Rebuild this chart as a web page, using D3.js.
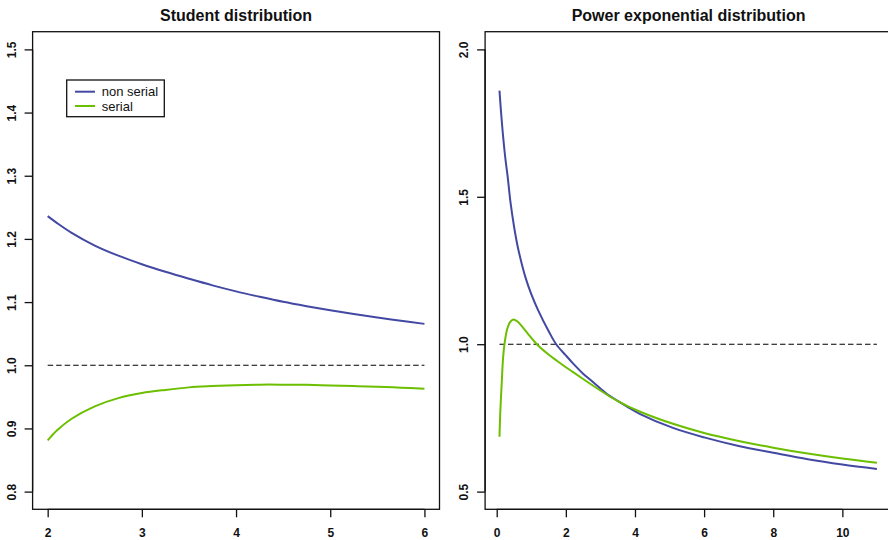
<!DOCTYPE html>
<html>
<head>
<meta charset="utf-8">
<script src="https://cdn.jsdelivr.net/npm/d3@7"></script>
<style>
  body { margin: 0; background: #fff; }
  svg { display: block; font-family: "Liberation Sans", Arial, Helvetica, sans-serif; }
</style>
</head>
<body>
<div id="chart"></div>
<script>
// left panel: Student distribution
const studentX = [2, 2.1, 2.25, 2.5, 2.75, 3, 3.25, 3.5, 3.75, 4, 4.25, 4.5, 4.75, 5, 5.25, 5.5, 5.75, 6]
const studentNonSerial = [1.236, 1.225, 1.210, 1.1895, 1.1735, 1.160, 1.148, 1.137, 1.1265, 1.117, 1.1085, 1.1005, 1.0935, 1.087, 1.081, 1.0755, 1.0705, 1.0655]
const studentSerial = [0.881, 0.897, 0.915, 0.935, 0.948, 0.956, 0.961, 0.965, 0.967, 0.9685, 0.9693, 0.9693, 0.969, 0.968, 0.967, 0.966, 0.9645, 0.963]

// right panel: Power exponential distribution
const peXNonSerial = [0.08, 0.12, 0.17, 0.25, 0.32, 0.4, 0.5, 0.6, 0.72, 0.85, 1.0, 1.2, 1.5, 1.72, 2.0, 2.2, 2.5, 2.7, 3.0, 3.2, 3.5, 3.76, 4.15, 5.1, 6, 7, 8, 9, 10, 11]
const peNonSerial = [1.86, 1.795, 1.724, 1.63, 1.565, 1.48, 1.40, 1.335, 1.275, 1.22, 1.17, 1.115, 1.045, 1.0, 0.962, 0.936, 0.900, 0.880, 0.850, 0.830, 0.808, 0.789, 0.763, 0.716, 0.684, 0.655, 0.632, 0.610, 0.592, 0.577]
const peXSerial = [0.08, 0.1, 0.124, 0.15, 0.173, 0.2, 0.24, 0.3, 0.38, 0.48, 0.6, 0.72, 0.9, 1.16, 1.5, 1.75, 2.0, 2.2, 2.5, 3.0, 3.5, 4.15, 5.1, 6, 7, 8, 9, 10, 11]
const peSerial = [0.686, 0.76, 0.821, 0.88, 0.934, 0.975, 1.013, 1.05, 1.074, 1.084, 1.077, 1.062, 1.036, 1.0, 0.965, 0.943, 0.922, 0.906, 0.882, 0.843, 0.807, 0.771, 0.730, 0.699, 0.672, 0.649, 0.629, 0.612, 0.598]

const studentYTicks = [0.8, 0.9, 1.0, 1.1, 1.2, 1.3, 1.4, 1.5]
const studentXTicks = [2, 3, 4, 5, 6]
const peYTicks = [0.5, 1.0, 1.5, 2.0]
const peXTicks = [0, 2, 4, 6, 8, 10]

const legendLabels = ["non serial", "serial"]
const colors = { nonSerial: "#4349a3", serial: "#6cbf00" }

const W = 888, H = 540
const svg = d3.select("#chart").append("svg").attr("width", W).attr("height", H)

function panel(opts) {
    const x = d3.scaleLinear().domain(opts.xDomain).range(opts.xRange)
    const y = d3.scaleLinear().domain(opts.yDomain).range([509.3, 31.7])
    const g = svg.append("g")

    // box
    g.append("rect")
        .attr("x", opts.xRange[0]).attr("y", 31.7)
        .attr("width", opts.xRange[1] - opts.xRange[0]).attr("height", 509.3 - 31.7)
        .attr("fill", "none").attr("stroke", "#111").attr("stroke-width", 1.3)

    // title
    g.append("text")
        .attr("x", (opts.xRange[0] + opts.xRange[1]) / 2).attr("y", 21)
        .attr("text-anchor", "middle")
        .style("font-size", "16px").style("font-weight", "bold").style("fill", "#111")
        .text(opts.title)

    // x axis
    const xa = g.append("g")
        .attr("transform", `translate(0, 509.3)`)
        .call(d3.axisBottom(x).tickValues(opts.xTicks).tickSize(8).tickPadding(11).tickFormat(d3.format("d")))
    xa.select(".domain").attr("d", `M${x(opts.xTicks[0])},0H${x(opts.xTicks[opts.xTicks.length - 1])}`)
    // y axis
    const ya = g.append("g")
        .attr("transform", `translate(${opts.xRange[0]}, 0)`)
        .call(d3.axisLeft(y).tickValues(opts.yTicks).tickSize(8).tickFormat(d3.format(".1f")))
    ya.select(".domain").attr("d", `M0,${y(opts.yTicks[0])}V${y(opts.yTicks[opts.yTicks.length - 1])}`)
    ya.selectAll(".tick text")
        .attr("x", null).attr("dy", null)
        .attr("transform", "translate(-17,0) rotate(-90)")
        .attr("text-anchor", "middle")
    for (const a of [xa, ya]) {
        a.selectAll(".domain, .tick line").attr("stroke", "#111").attr("stroke-width", 1.3)
        a.selectAll(".tick text").style("font-size", "12px").style("font-weight", "bold")
            .style("font-family", "'Liberation Sans', Arial, sans-serif").attr("fill", "#111")
    }

    // reference line at 1
    g.append("line")
        .attr("x1", x(opts.refRange[0])).attr("x2", x(opts.refRange[1]))
        .attr("y1", y(1)).attr("y2", y(1))
        .attr("stroke", "#000").attr("stroke-width", 1.1).attr("stroke-dasharray", "5.5,3")

    const line = (xs) => d3.line()
        .x((d, i) => x(xs[i]))
        .y(d => y(d))
        .curve(d3.curveCatmullRom.alpha(0.5))

    g.append("path").datum(opts.nonSerial)
        .attr("fill", "none").attr("stroke", colors.nonSerial).attr("stroke-width", 2)
        .attr("d", line(opts.xNonSerial))
    g.append("path").datum(opts.serial)
        .attr("fill", "none").attr("stroke", colors.serial).attr("stroke-width", 2)
        .attr("d", line(opts.xSerial))
    return g
}

const left = panel({
    title: "Student distribution",
    xDomain: [1.84, 6.16], xRange: [32.6, 439.5],
    yDomain: [0.772, 1.528],
    xTicks: studentXTicks, yTicks: studentYTicks,
    refRange: [2, 6],
    xNonSerial: studentX, nonSerial: studentNonSerial,
    xSerial: studentX, serial: studentSerial
})

panel({
    title: "Power exponential distribution",
    xDomain: [-0.336, 11.436], xRange: [485.1, 892],
    yDomain: [0.44, 2.06],
    xTicks: peXTicks, yTicks: peYTicks,
    refRange: [0.08, 11],
    xNonSerial: peXNonSerial, nonSerial: peNonSerial,
    xSerial: peXSerial, serial: peSerial
})

// legend in the left panel
const lg = left.append("g").attr("transform", "translate(66.7, 80)")
lg.append("rect").attr("width", 97.6).attr("height", 36.7)
    .attr("fill", "#fff").attr("stroke", "#111").attr("stroke-width", 1.3)
legendLabels.forEach((label, i) => {
    const c = i === 0 ? colors.nonSerial : colors.serial
    lg.append("line").attr("x1", 8.3).attr("x2", 28.3)
        .attr("y1", 11.7 + i * 14.3).attr("y2", 11.7 + i * 14.3)
        .attr("stroke", c).attr("stroke-width", 2)
    lg.append("text").attr("x", 35).attr("y", 16.2 + i * 14.3)
        .style("font-size", "13px").style("fill", "#111")
        .text(label)
})
</script>
</body>
</html>
